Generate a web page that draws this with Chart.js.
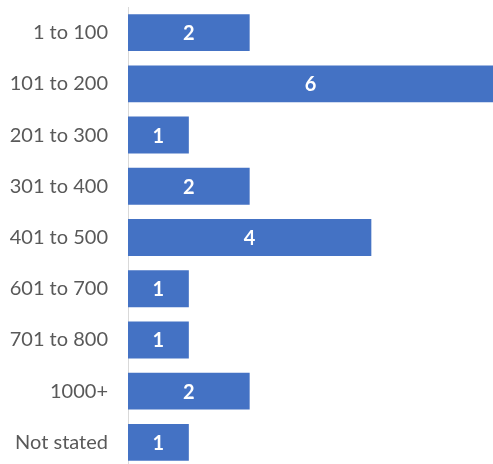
<!DOCTYPE html>
<html>
<head>
<meta charset="utf-8">
<script src="https://cdn.jsdelivr.net/npm/chart.js@4/dist/chart.umd.min.js"></script>
<style>
  html, body { margin: 0; padding: 0; background: #fff; overflow: hidden; }
  canvas { display: block; }
</style>
</head>
<body>
<canvas id="chart" width="493" height="470"></canvas>
<script>
const categories = ['1 to 100','101 to 200','201 to 300','301 to 400','401 to 500','601 to 700','701 to 800','1000+','Not stated'];
const counts = [2, 6, 1, 2, 4, 1, 1, 2, 1];

const BAR = '#4472C4';
const FONT = 'Lato, "Open Sans", sans-serif';

// white count written in the middle of each bar
const barValues = {
  id: 'barValues',
  afterDatasetsDraw(chart){
    const { ctx } = chart;
    const meta = chart.getDatasetMeta(0);
    ctx.save();
    ctx.fillStyle = '#fff';
    ctx.font = 'bold 20px ' + FONT;
    ctx.textAlign = 'center';
    ctx.textBaseline = 'middle';
    meta.data.forEach((bar, i) => {
      const x = (bar.x + bar.base) / 2;
      ctx.fillText(String(counts[i]), x, bar.y + 1);
    });
    ctx.restore();
  }
};

new Chart(document.getElementById('chart'), {
  type: 'bar',
  data: {
    labels: categories,
    datasets: [{
      data: counts,
      backgroundColor: BAR,
      borderWidth: 0,
      barPercentage: 1,
      categoryPercentage: 0.72
    }]
  },
  options: {
    indexAxis: 'y',
    responsive: false,
    animation: false,
    layout: { padding: { top: 7, bottom: 2, left: 0, right: 0 } },
    plugins: { legend: { display: false }, tooltip: { enabled: false } },
    scales: {
      x: { min: 0, max: 6, display: false },
      y: {
        afterFit(scale){
          scale.width = 128;
          scale.paddingTop = 0;
          scale.paddingBottom = 0;
        },
        grid: { display: false, drawTicks: true, tickLength: 20 },
        border: { display: true, color: '#d9d9d9', width: 1 },
        ticks: { color: '#595959', padding: 0, font: { family: FONT, size: 20 } }
      }
    }
  },
  plugins: [barValues]
});
</script>
</body>
</html>
